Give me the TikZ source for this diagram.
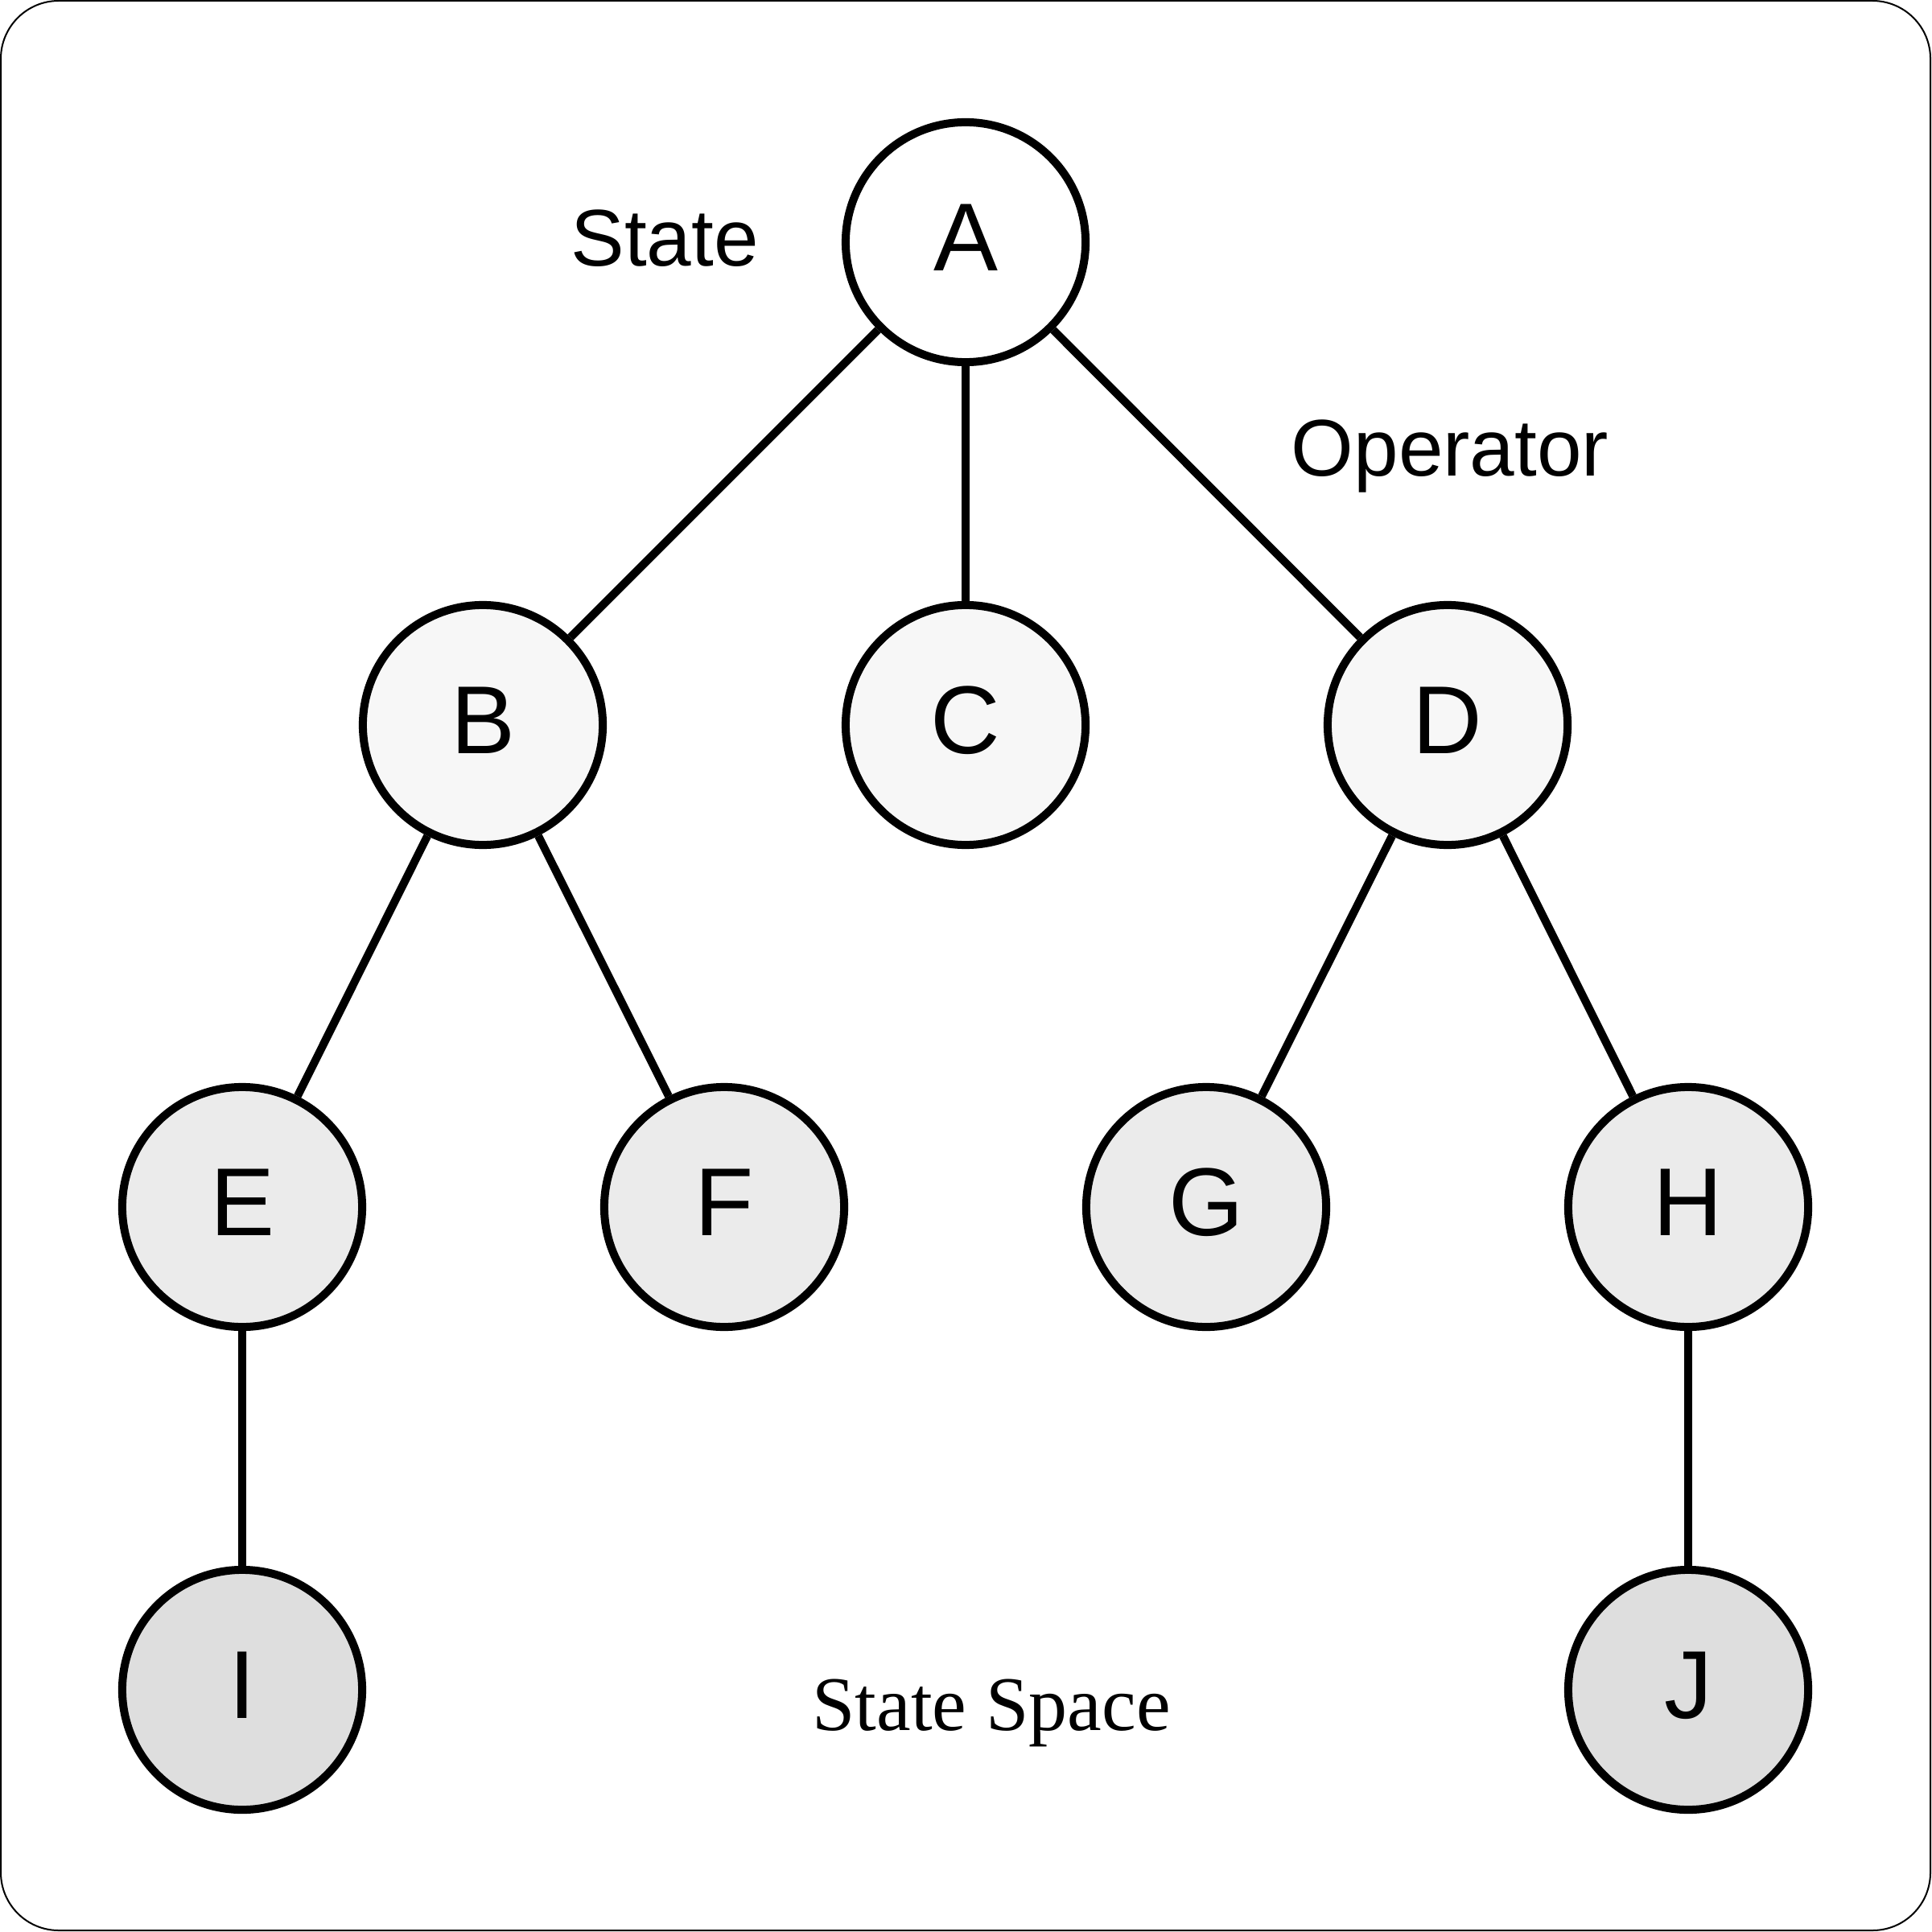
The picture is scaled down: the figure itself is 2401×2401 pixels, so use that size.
\documentclass[tikz,border=0pt]{standalone}
\usepackage{fontspec}
\setmainfont{Liberation Sans}
\newfontfamily\serifface{Liberation Serif}
\definecolor{lvlone}{HTML}{F7F7F7}
\definecolor{lvltwo}{HTML}{EBEBEB}
\definecolor{lvlthree}{HTML}{DEDEDE}
\begin{document}
\begin{tikzpicture}[x=0.01cm,y=-0.01cm,
  statenode/.style={circle,draw=black,line width=2.845pt,minimum size=2.98cm,inner sep=0pt,
    text height=0.84cm,text depth=0.14cm,
    font=\fontsize{34.1pt}{40pt}\selectfont},
  edge/.style={line width=2.845pt,draw=black},
  lbl/.style={anchor=base,inner sep=0pt,font=\fontsize{28.4pt}{34pt}\selectfont}]
\useasboundingbox (0,0) rectangle (2401,2401);
\draw[line width=0.57pt,rounded corners=0.72cm] (1,1) rectangle (2399,2399);
\node[statenode,fill=white] (A) at (1200,301) {A};
\node[statenode,fill=lvlone] (B) at (600,901) {B};
\node[statenode,fill=lvlone] (C) at (1200,901) {C};
\node[statenode,fill=lvlone] (D) at (1799,901) {D};
\node[statenode,fill=lvltwo] (E) at (301,1500) {E};
\node[statenode,fill=lvltwo] (F) at (900,1500) {F};
\node[statenode,fill=lvltwo] (G) at (1499,1500) {G};
\node[statenode,fill=lvltwo] (H) at (2098,1500) {H};
\node[statenode,fill=lvlthree] (I) at (301,2100) {I};
\node[statenode,fill=lvlthree] (J) at (2098,2100) {J};
\draw[edge] (A) -- (B);
\draw[edge] (A) -- (C);
\draw[edge] (A) -- (D);
\draw[edge] (B) -- (E);
\draw[edge] (B) -- (F);
\draw[edge] (D) -- (G);
\draw[edge] (D) -- (H);
\draw[edge] (E) -- (I);
\draw[edge] (H) -- (J);
\node[lbl] (statelbl) at (826,331) {State};
\node[lbl] (oplbl) at (1802,592) {Operator};
\node[lbl,font=\serifface\fontsize{27.3pt}{33pt}\selectfont] (spacelbl) at (1232,2150) {State Space};
\end{tikzpicture}
\end{document}
